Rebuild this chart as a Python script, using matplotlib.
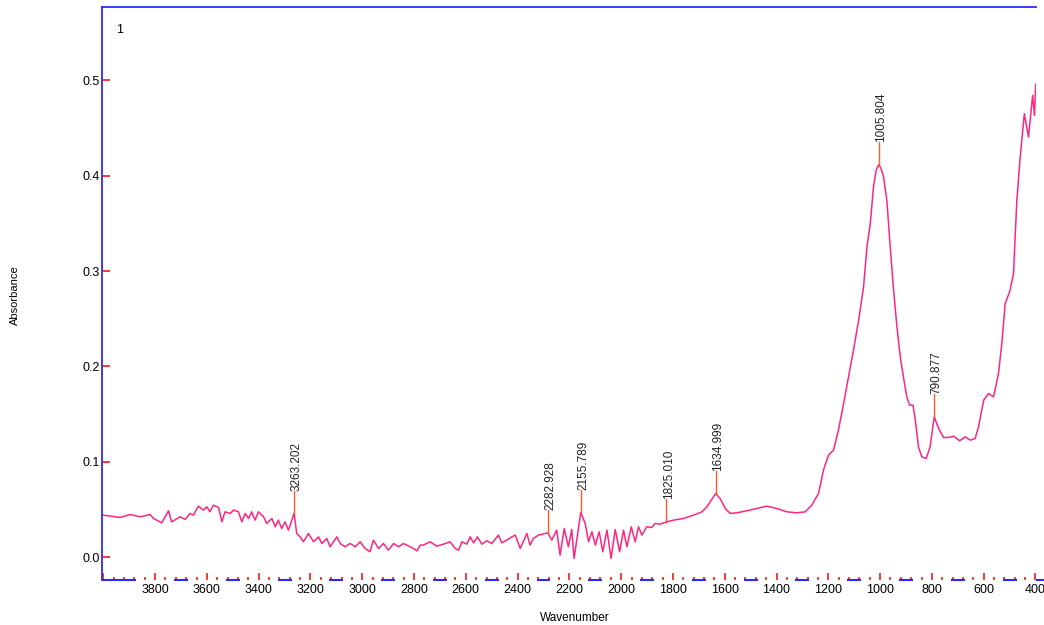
import matplotlib
matplotlib.use("Agg")
import matplotlib.pyplot as plt
from matplotlib.ticker import FixedLocator, FixedFormatter

# spectrum (wavenumber, absorbance)
wavenumber = [
    4000, 3935, 3896, 3858, 3819, 3806, 3774, 3748, 3736, 3703, 3684, 3665, 3652, 3633,
    3613, 3600, 3588, 3575, 3555, 3542, 3530, 3510, 3497, 3478, 3465, 3452, 3439, 3427,
    3414, 3401, 3381, 3369, 3349, 3336, 3324, 3311, 3298, 3285, 3263, 3253, 3240, 3227,
    3208, 3188, 3169, 3156, 3137, 3124, 3098, 3085, 3066, 3047, 3027, 3008, 2989, 2970,
    2957, 2937, 2918, 2899, 2879, 2860, 2841, 2815, 2802, 2789, 2776, 2764, 2738, 2712,
    2686, 2661, 2641, 2628, 2615, 2596, 2583, 2570, 2555, 2538, 2519, 2500, 2474, 2461,
    2442, 2422, 2409, 2390, 2364, 2352, 2339, 2319, 2283, 2268, 2249, 2236, 2220, 2204,
    2191, 2182, 2165, 2156, 2139, 2126, 2113, 2100, 2085, 2071, 2055, 2039, 2023, 2006,
    1991, 1978, 1961, 1946, 1933, 1920, 1901, 1882, 1869, 1850, 1825, 1798, 1759, 1721,
    1688, 1669, 1635, 1618, 1598, 1579, 1553, 1515, 1476, 1437, 1399, 1360, 1322, 1289,
    1264, 1238, 1219, 1199, 1180, 1161, 1141, 1122, 1103, 1083, 1064, 1051, 1038, 1025,
    1015, 1006, 997, 987, 974, 961, 948, 935, 922, 910, 897, 886, 873, 864, 852, 839, 822,
    807, 791, 774, 755, 736, 716, 693, 671, 652, 633, 620, 600, 581, 562, 543, 530, 517,
    498, 485, 472, 459, 443, 427, 411, 404, 399,
]
absorbance = [
    0.0440, 0.0416, 0.0447, 0.0423, 0.0447, 0.0405, 0.0360, 0.0486, 0.0370, 0.0423, 0.0395,
    0.0458, 0.0440, 0.0535, 0.0493, 0.0528, 0.0475, 0.0545, 0.0521, 0.0370, 0.0475, 0.0458,
    0.0493, 0.0475, 0.0370, 0.0458, 0.0405, 0.0475, 0.0388, 0.0475, 0.0423, 0.0353, 0.0405,
    0.0318, 0.0388, 0.0300, 0.0370, 0.0283, 0.0460, 0.0248, 0.0213, 0.0161, 0.0248, 0.0161,
    0.0213, 0.0143, 0.0196, 0.0108, 0.0213, 0.0143, 0.0108, 0.0143, 0.0108, 0.0161, 0.0091,
    0.0056, 0.0178, 0.0091, 0.0143, 0.0073, 0.0143, 0.0108, 0.0143, 0.0108, 0.0091, 0.0065,
    0.0126, 0.0126, 0.0161, 0.0115, 0.0136, 0.0161, 0.0091, 0.0073, 0.0161, 0.0136, 0.0213,
    0.0150, 0.0213, 0.0136, 0.0171, 0.0143, 0.0231, 0.0150, 0.0178, 0.0213, 0.0231, 0.0091,
    0.0248, 0.0126, 0.0196, 0.0231, 0.0255, 0.0178, 0.0283, 0.0021, 0.0301, 0.0108, 0.0290,
    -0.0014, 0.0301, 0.0470, 0.0353, 0.0161, 0.0266, 0.0126, 0.0266, 0.0056, 0.0283, -0.0014,
    0.0290, 0.0056, 0.0283, 0.0108, 0.0318, 0.0161, 0.0318, 0.0231, 0.0318, 0.0311, 0.0353,
    0.0346, 0.0370, 0.0388, 0.0405, 0.0440, 0.0475, 0.0528, 0.0667, 0.0615, 0.0510, 0.0458,
    0.0465, 0.0486, 0.0510, 0.0535, 0.0510, 0.0475, 0.0465, 0.0475, 0.0545, 0.0667, 0.0912,
    0.1070, 0.1122, 0.1332, 0.1611, 0.1890, 0.2170, 0.2484, 0.2834, 0.3253, 0.3500, 0.3900,
    0.4060, 0.4115, 0.4080, 0.3990, 0.3742, 0.3253, 0.2799, 0.2414, 0.2100, 0.1890, 0.1681,
    0.1594, 0.1594, 0.1436, 0.1157, 0.1052, 0.1034, 0.1157, 0.1471, 0.1349, 0.1255, 0.1255,
    0.1269, 0.1220, 0.1262, 0.1227, 0.1244, 0.1367, 0.1646, 0.1716, 0.1681, 0.1925, 0.2240,
    0.2659, 0.2799, 0.2974, 0.3742, 0.4196, 0.4651, 0.4406, 0.4843, 0.4633, 0.4960,
]

# labelled peaks
peak_pos = [3263.202, 2282.928, 2155.789, 1825.010, 1634.999, 1005.804, 790.877]
peak_abs = [0.0460, 0.0255, 0.0470, 0.0370, 0.0667, 0.4115, 0.1471]

x_major = [4000, 3800, 3600, 3400, 3200, 3000, 2800, 2600, 2400, 2200, 2000,
           1800, 1600, 1400, 1200, 1000, 800, 600, 400]
x_labels = [""] + [str(v) for v in x_major[1:]]
y_major = [0.0, 0.1, 0.2, 0.3, 0.4, 0.5]

plt.rcParams['font.family'] = ['Liberation Sans', 'DejaVu Sans']

fig = plt.figure(figsize=(10.44, 6.25), dpi=100)
ax = fig.add_axes([102 / 1044, 1 - 580 / 625, 934 / 1044, 573 / 625])

ax.plot(wavenumber, absorbance, color='#ff2680', lw=1.1)

# peak markers
for p, a in zip(peak_pos, peak_abs):
    top = a + 0.0235
    ax.plot([p, p], [a, top], color='#ff5a28', lw=1.0)
    ax.annotate("%.3f" % p, xy=(p, top), xytext=(1.8, 0), textcoords='offset points',
                rotation=90, ha='center', va='bottom', fontsize=8.5, color='#222222')

ax.set_xlim(4005, 398)
ax.set_ylim(-0.024, 0.577)

for side in ['right', 'bottom']:
    ax.spines[side].set_visible(False)
for side in ['left', 'top']:
    ax.spines[side].set_color('#2a2aff')
    ax.spines[side].set_linewidth(1.3)

# bottom axis line, broken under each label
xt = ax.get_xaxis_transform()
edges = [4005] + [v for t in x_major[1:] for v in (t + 73, t - 73)] + [398]
for i in range(0, len(edges) - 1, 2):
    ax.plot([edges[i], edges[i + 1]], [0, 0], color='#2a2aff', lw=1.5,
            transform=xt, clip_on=False, solid_capstyle='butt')

ax.xaxis.set_major_locator(FixedLocator(x_major))
ax.xaxis.set_major_formatter(FixedFormatter(x_labels))
ax.xaxis.set_minor_locator(FixedLocator(list(range(400, 4001, 40))))
ax.yaxis.set_major_locator(FixedLocator(y_major))
ax.yaxis.set_major_formatter(FixedFormatter(["%.1f" % v for v in y_major]))

ax.tick_params(axis='x', which='major', direction='in', length=5, width=1.1,
               color='red', labelsize=9, pad=3)
ax.tick_params(axis='x', which='minor', direction='in', length=2, width=1.1, color='red')
ax.tick_params(axis='y', which='major', direction='in', length=6, width=1.1,
               color='red', labelsize=9, pad=1.5)

fig.text(120 / 1044, 1 - 30 / 625, "1", fontsize=9, ha='center', va='center')
fig.text(15 / 1044, 1 - 295 / 625, "Absorbance", rotation=90, fontsize=8,
         ha='center', va='center')
fig.text(575 / 1044, 1 - 618 / 625, "Wavenumber", fontsize=8.5, ha='center', va='center')

fig.savefig("out.png", dpi=100)
